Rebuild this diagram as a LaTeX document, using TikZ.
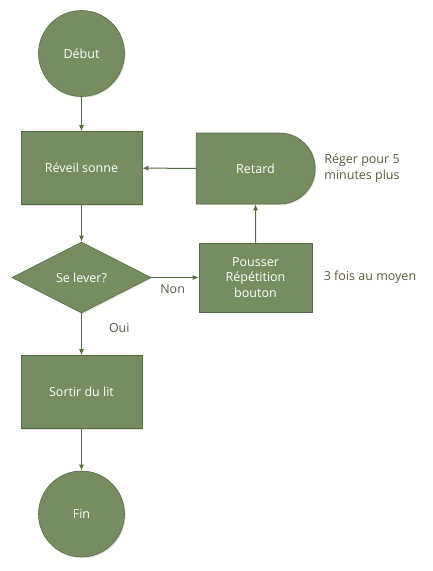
\documentclass[tikz,border=0pt]{standalone}
\usepackage{fontspec}
\setmainfont{Open Sans}
\usetikzlibrary{shapes.geometric,shapes.misc,arrows.meta,shadows}
\definecolor{boxgreen}{HTML}{758D61}
\definecolor{edgegreen}{HTML}{566E44}
\definecolor{notetext}{HTML}{5E5B3A}
\definecolor{labeltext}{HTML}{575749}
\begin{document}
\begin{tikzpicture}[x=1pt,y=1pt]
\tikzstyle{every node}+=[inner sep=0pt, font=\fontsize{12.5}{15.5}\selectfont]
\tikzstyle{flowbox}=[fill=boxgreen, draw=edgegreen, line width=0.6pt, text=white, align=center,
  drop shadow={shadow xshift=1.2pt, shadow yshift=-1.2pt, fill=black!18, opacity=0.6}]
\tikzstyle{terminal}=[flowbox, circle, minimum size=86pt]
\tikzstyle{process}=[flowbox, rectangle, minimum width=121pt, minimum height=73pt]
\tikzstyle{delay}=[flowbox, rounded rectangle, rounded rectangle west arc=none, minimum width=119pt, minimum height=71pt]
\tikzstyle{decision}=[flowbox, diamond, aspect=1.96, minimum width=139pt, minimum height=71pt]
\tikzstyle{note}=[text=notetext, align=center]
\tikzstyle{link}=[draw=edgegreen, line width=1pt, -{Latex[length=6pt,width=5pt]}]
\useasboundingbox (0,0) rectangle (432,-571);
\node [terminal] (debut) at (81.5,-53.5) {Début};
\node [process] (reveil) at (81.5,-168) {Réveil sonne};
\node [delay] (retard) at (255.5,-168.5) {Retard};
\node [decision] (lever) at (81.5,-277.5) {Se lever?};
\node [process, minimum width=113pt, minimum height=69pt] (pousser) at (255.5,-277.5) {Pousser\\Répétition\\bouton};
\node [process] (sortir) at (81.5,-392) {Sortir du lit};
\node [terminal] (fin) at (81.5,-514) {Fin};
\node [note] (reger) at (362,-168) {Réger pour 5\\minutes plus};
\node [note] (moyen) at (370,-277) {3 fois au moyen};
\draw [link] (debut) -- (reveil);
\draw [link] (reveil) -- (lever);
\draw [link] (lever.east) -- (pousser.west) node [pos=0.45, below=7pt, text=labeltext] (non) {Non};
\draw [link] (pousser) -- (retard);
\draw [link] (retard) -- (reveil);
\draw [link] (lever.south) -- (sortir.north) node [pos=0.35, right=27pt, text=labeltext] (oui) {Oui};
\draw [link] (sortir) -- (fin);
\end{tikzpicture}
\end{document}
